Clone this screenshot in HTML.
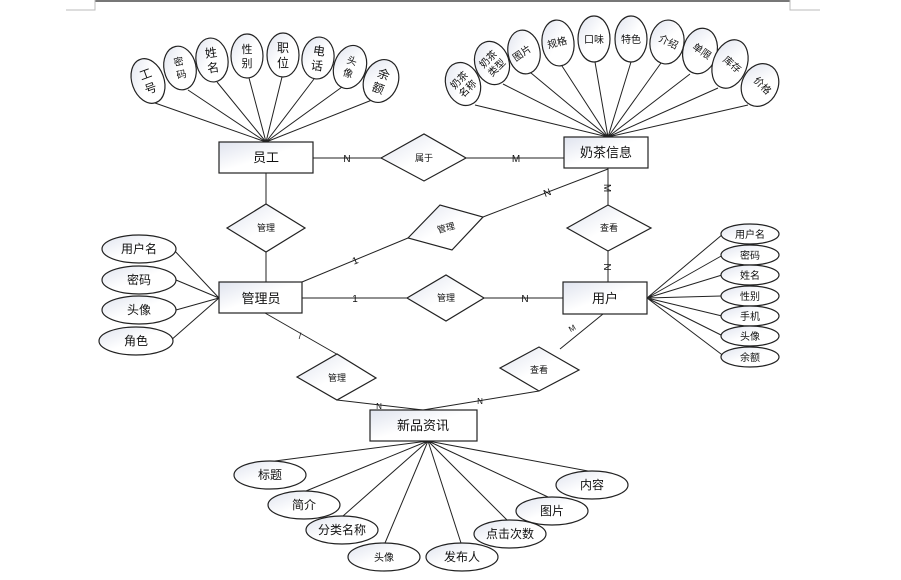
<!DOCTYPE html>
<html><head><meta charset="utf-8"><style>
html,body{margin:0;padding:0;background:#fff;}
svg{display:block;}
text{font-family:"Liberation Sans","Noto Sans CJK SC",sans-serif;fill:#111;}
</style></head><body>
<svg width="901" height="580" viewBox="0 0 901 580" xmlns="http://www.w3.org/2000/svg">
<defs>
<linearGradient id="g" x1="0" y1="0" x2="1" y2="1">
<stop offset="0" stop-color="#dfe3ee"/><stop offset="0.5" stop-color="#ffffff"/><stop offset="1" stop-color="#ffffff"/>
</linearGradient>
</defs>
<!-- page marks -->
<line x1="95" y1="1" x2="790" y2="1" stroke="#777" stroke-width="2"/>
<path d="M95 0V10H66M790 0V10H820" fill="none" stroke="#bbb" stroke-width="1"/>

<g stroke="#222" stroke-width="1" fill="none">
<!-- 员工 attr lines -->
<path d="M266 142L155 103M266 142L188 90M266 142L217 82M266 142L249 78M266 142L282 77M266 142L314 79M266 142L342 87M266 142L372 100"/>
<!-- 奶茶 attr lines -->
<path d="M608 137L475 105M608 137L503 84M608 137L531 73M608 137L562 66M608 137L595 62M608 137L631 62M608 137L661 63M608 137L690 74M608 137L718 88M608 137L748 105"/>
<!-- relationships -->
<path d="M313 158H381M466 158H564"/>
<path d="M266 173V204M266 252V282"/>
<path d="M302 282L408 238M483 217L608 169"/>
<path d="M302 298H407M484 298H564"/>
<path d="M608 168V205M608 251V282"/>
<path d="M647 298L723 234M647 298L723 255M647 298L722 275M647 298L721 296M647 298L722 316M647 298L723 336M647 298L725 357"/>
<path d="M219 298L173 249M219 298L176 280M219 298L176 310M219 298L170 341"/>
<path d="M265 313L340 356M337 400L423 410M603 314L560 349M539 391L423 410"/>
<path d="M428 441L275 461M428 441L306 491M428 441L343 516M428 441L385 543M428 441L461 543M428 441L507 520M428 441L548 497M428 441L588 471"/>
</g>

<g stroke="#222" stroke-width="1.2" fill="url(#g)">
<rect x="219" y="142" width="94" height="31"/>
<rect x="564" y="137" width="84" height="31"/>
<rect x="219" y="282" width="83" height="31"/>
<rect x="563" y="282" width="84" height="32"/>
<rect x="370" y="410" width="107" height="31"/>
<polygon points="381,158 424,134 466,158 424,181"/>
<polygon points="227,228 266,204 305,228 266,252"/>
<polygon points="408,238 440,205 483,217 452,250"/>
<polygon points="407,298 446,275 484,298 446,321"/>
<polygon points="567,228 608,205 651,228 608,251"/>
<polygon points="297,377 337,354 376,378 337,400"/>
<polygon points="500,368 539,347 579,370 539,391"/>
</g>

<g stroke="#222" stroke-width="1.2" fill="url(#g)">
<ellipse cx="148" cy="81" rx="16" ry="23" transform="rotate(-20 148 81)"/>
<ellipse cx="180" cy="68" rx="16" ry="22" transform="rotate(-12 180 68)"/>
<ellipse cx="212" cy="60" rx="16" ry="22" transform="rotate(-8 212 60)"/>
<ellipse cx="247" cy="56" rx="16" ry="22"/>
<ellipse cx="283" cy="55" rx="16" ry="22"/>
<ellipse cx="318" cy="58" rx="16" ry="21" transform="rotate(8 318 58)"/>
<ellipse cx="350" cy="67" rx="16" ry="22" transform="rotate(18 350 67)"/>
<ellipse cx="381" cy="81" rx="17" ry="22" transform="rotate(22 381 81)"/>

<ellipse cx="463" cy="84" rx="17" ry="22" transform="rotate(-20 463 84)"/>
<ellipse cx="492" cy="63" rx="17" ry="22" transform="rotate(-18 492 63)"/>
<ellipse cx="524" cy="52" rx="16" ry="22" transform="rotate(-10 524 52)"/>
<ellipse cx="558" cy="43" rx="16" ry="23" transform="rotate(-6 558 43)"/>
<ellipse cx="594" cy="39" rx="16" ry="23"/>
<ellipse cx="631" cy="39" rx="16" ry="23"/>
<ellipse cx="667" cy="42" rx="17" ry="22" transform="rotate(8 667 42)"/>
<ellipse cx="700" cy="51" rx="17" ry="23" transform="rotate(14 700 51)"/>
<ellipse cx="730" cy="64" rx="17" ry="25" transform="rotate(20 730 64)"/>
<ellipse cx="760" cy="85" rx="18" ry="22" transform="rotate(25 760 85)"/>

<ellipse cx="139" cy="249" rx="37" ry="14"/>
<ellipse cx="139" cy="280" rx="37" ry="14"/>
<ellipse cx="139" cy="310" rx="37" ry="14"/>
<ellipse cx="136" cy="341" rx="37" ry="14"/>

<ellipse cx="750" cy="234" rx="29" ry="10"/>
<ellipse cx="750" cy="255" rx="29" ry="10"/>
<ellipse cx="750" cy="275" rx="29" ry="10"/>
<ellipse cx="750" cy="296" rx="29" ry="10"/>
<ellipse cx="750" cy="316" rx="29" ry="10"/>
<ellipse cx="750" cy="336" rx="29" ry="10"/>
<ellipse cx="750" cy="357" rx="29" ry="10"/>

<ellipse cx="270" cy="475" rx="36" ry="14"/>
<ellipse cx="304" cy="505" rx="36" ry="14"/>
<ellipse cx="342" cy="530" rx="36" ry="14"/>
<ellipse cx="384" cy="557" rx="36" ry="14"/>
<ellipse cx="462" cy="557" rx="36" ry="14"/>
<ellipse cx="510" cy="534" rx="36" ry="14"/>
<ellipse cx="552" cy="511" rx="36" ry="14"/>
<ellipse cx="592" cy="485" rx="36" ry="14"/>
</g>

<!-- entity labels -->
<g font-size="13" text-anchor="middle">
<text x="266" y="162">员工</text>
<text x="606" y="157">奶茶信息</text>
<text x="261" y="303">管理员</text>
<text x="605" y="303">用户</text>
<text x="423" y="430">新品资讯</text>
</g>
<g font-size="9" text-anchor="middle">
<text x="424" y="161">属于</text>
<text x="266" y="231">管理</text>
<text x="446" y="231" transform="rotate(-15 446 228)">管理</text>
<text x="446" y="301">管理</text>
<text x="609" y="231">查看</text>
<text x="337" y="381">管理</text>
<text x="539" y="373">查看</text>
</g>
<g font-size="10" text-anchor="middle">
<text x="347" y="162">N</text>
<text x="516" y="162">M</text>
<text x="355" y="302">1</text>
<text x="525" y="302">N</text>
<text x="355" y="264" transform="rotate(-22 355 260)">1</text>
<text x="547" y="196" transform="rotate(-22 547 192)">N</text>
<text x="608" y="192" transform="rotate(90 608 188)">M</text>
<text x="608" y="271" transform="rotate(90 608 267)">N</text>
<text x="300" y="339" font-size="9">/</text>
<text x="379" y="409" font-size="8">N</text>
<text x="480" y="404" font-size="8">N</text>
<text x="572" y="331" font-size="8" transform="rotate(-30 572 328)">M</text>
</g>
<!-- 员工 attrs -->
<g font-size="12" text-anchor="middle">
<text transform="translate(148 81) rotate(-20)"><tspan x="0" y="-3">工</tspan><tspan x="0" y="12">号</tspan></text>
<text font-size="10" transform="translate(180 68) rotate(-12)"><tspan x="0" y="-3">密</tspan><tspan x="0" y="10">码</tspan></text>
<text transform="translate(212 60) rotate(-8)"><tspan x="0" y="-3">姓</tspan><tspan x="0" y="12">名</tspan></text>
<text font-size="11" transform="translate(247 56)"><tspan x="0" y="-3">性</tspan><tspan x="0" y="11">别</tspan></text>
<text transform="translate(283 55)"><tspan x="0" y="-3">职</tspan><tspan x="0" y="12">位</tspan></text>
<text transform="translate(318 58) rotate(8)"><tspan x="0" y="-3">电</tspan><tspan x="0" y="12">话</tspan></text>
<text font-size="10" transform="translate(350 67) rotate(18)"><tspan x="0" y="-3">头</tspan><tspan x="0" y="10">像</tspan></text>
<text transform="translate(381 81) rotate(22)"><tspan x="0" y="-3">余</tspan><tspan x="0" y="12">额</tspan></text>
</g>
<!-- 奶茶 attrs -->
<g font-size="10" text-anchor="middle">
<text transform="translate(463 84) rotate(-45)"><tspan x="0" y="-2">奶茶</tspan><tspan x="0" y="10">名称</tspan></text>
<text transform="translate(492 63) rotate(-45)"><tspan x="0" y="-2">奶茶</tspan><tspan x="0" y="10">类型</tspan></text>
<text transform="translate(524 56) rotate(-35)">图片</text>
<text transform="translate(558 46) rotate(-15)">规格</text>
<text transform="translate(594 43)">口味</text>
<text transform="translate(631 43)">特色</text>
<text transform="translate(667 45) rotate(25)">介绍</text>
<text transform="translate(700 54) rotate(35)">单限</text>
<text transform="translate(730 67) rotate(40)">库存</text>
<text transform="translate(760 88) rotate(45)">价格</text>
</g>
<g font-size="12" text-anchor="middle">
<text x="139" y="253">用户名</text>
<text x="139" y="284">密码</text>
<text x="139" y="314">头像</text>
<text x="136" y="345">角色</text>
<text x="270" y="479">标题</text>
<text x="304" y="509">简介</text>
<text x="342" y="534">分类名称</text>
<text x="384" y="561" font-size="10">头像</text>
<text x="462" y="561">发布人</text>
<text x="510" y="538">点击次数</text>
<text x="552" y="515">图片</text>
<text x="592" y="489">内容</text>
</g>
<g font-size="10" text-anchor="middle">
<text x="750" y="238">用户名</text>
<text x="750" y="259">密码</text>
<text x="750" y="279">姓名</text>
<text x="750" y="300">性别</text>
<text x="750" y="320">手机</text>
<text x="750" y="340">头像</text>
<text x="750" y="361">余额</text>
</g>
</svg>
</body></html>
